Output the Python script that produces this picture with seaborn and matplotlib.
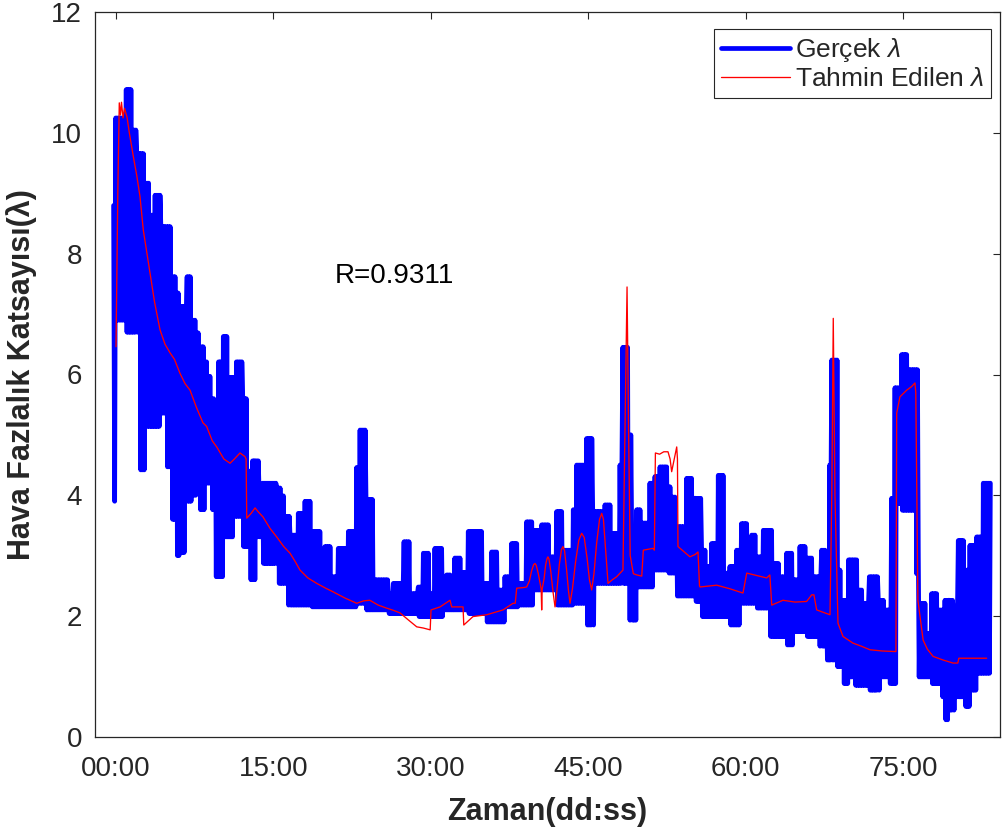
import numpy as np
import pandas as pd
import matplotlib
matplotlib.use("Agg")
import matplotlib.pyplot as plt
import seaborn as sns

# Measured lambda: the sensor signal oscillates quickly, so it is summarised
# per interval by the upper and lower value it swings between (minutes).
blok_baslangic = [
    -0.2, 0.0, 1.0, 1.6, 2.0, 2.3, 2.8, 3.3, 3.75, 4.3, 4.85, 5.35, 5.8, 6.1, 6.6, 6.8,
    7.25, 7.7, 8.0, 8.5, 8.8, 9.15, 9.5, 9.8, 10.25, 10.75, 11.2, 11.5, 12.1, 12.6, 12.8,
    13.04, 13.4, 13.67, 14.0, 15.33, 15.5, 15.81, 16.13, 16.4, 16.6, 17.39, 18.03, 18.66,
    19.6, 19.93, 20.57, 21.2, 22.16, 22.95, 23.27, 23.84, 24.6, 25.97, 26.44, 27.46,
    28.09, 28.82, 29.3, 29.93, 30.4, 31.2, 31.52, 32.0, 32.3, 32.95, 33.58, 35.0, 35.3,
    35.8, 36.44, 37.07, 37.71, 38.35, 39.14, 39.78, 40.57, 41.36, 42.0, 42.63, 43.58,
    43.9, 44.85, 45.43, 45.6, 46.6, 47.23, 48.03, 48.3, 48.9, 49.14, 49.62, 50.09, 50.88,
    51.2, 51.36, 51.84, 52.63, 52.95, 53.42, 54.38, 55.0, 55.2, 55.8, 56.28, 56.75,
    57.39, 58.0, 58.5, 59.14, 59.45, 59.6, 60.25, 60.57, 61.04, 61.68, 62.3, 62.63,
    63.27, 63.9, 64.54, 65.17, 65.8, 66.44, 67.0, 67.23, 67.71, 68.0, 68.2, 68.7, 68.82,
    69.14, 69.3, 69.8, 70.4, 70.73, 71.2, 71.78, 72.63, 72.8, 73.27, 73.7, 73.9, 74.22,
    74.35, 74.85, 75.49, 76.2, 76.44, 76.6, 77.23, 77.71, 78.34, 78.7, 78.98, 79.4,
    79.77, 80.0, 80.25, 80.89, 81.36, 82.0, 82.63,
]
blok_ust = [
    8.8, 10.25, 10.72, 10.05, 9.66, 9.66, 9.17, 8.64, 8.97, 8.45, 8.45, 7.62, 7.35, 7.13, 7.02, 7.62,
    6.9, 6.69, 6.46, 6.21, 5.97, 5.6, 5.41, 6.21, 6.63, 5.95, 5.95, 6.21, 5.6, 4.4, 4.03,
    4.57, 4.57, 3.99, 4.2, 4.12, 4.12, 3.99, 3.65, 3.65, 3.34, 3.7, 3.9, 3.4,
    2.65, 3.15, 2.65, 3.12, 3.4, 4.46, 5.08, 3.93, 2.6, 2.37, 2.54, 3.23,
    2.37, 2.48, 3.04, 2.37, 3.12, 2.65, 2.68, 2.37, 2.96, 2.72, 3.4, 2.54, 2.54,
    3.06, 2.43, 2.65, 3.2, 2.54, 3.56, 3.42, 3.51, 2.98, 3.73, 3.09, 3.76,
    4.5, 4.94, 3.73, 3.73, 3.84, 3.37, 4.5, 6.45, 5.0, 3.4, 3.76, 3.54, 4.2,
    4.2, 4.31, 4.47, 4.14, 3.97, 3.48, 4.28, 3.95, 3.95, 3.09, 2.82, 3.2,
    4.33, 2.71, 2.82, 3.09, 3.09, 3.53, 3.09, 3.34, 2.98, 3.42, 3.42, 2.87,
    2.65, 3.04, 2.6, 3.15, 2.96, 2.65, 2.65, 3.09, 2.04, 4.5, 6.24, 6.24, 2.76,
    2.26, 2.26, 2.93, 2.93, 2.43, 2.21, 2.65, 2.26, 2.26, 2.1, 2.1, 3.95, 5.78,
    5.78, 6.33, 6.08, 6.08, 3.0, 2.21, 1.71, 2.37, 2.1, 2.1, 2.26, 2.26,
    2.1, 2.1, 3.25, 2.76, 3.17, 3.31, 4.2,
]
blok_alt = [
    3.9, 6.9, 6.7, 6.7, 6.7, 4.42, 5.14, 5.14, 5.14, 5.36, 4.47, 3.6, 3.0, 3.05, 3.9, 3.9,
    4.0, 4.3, 3.76, 4.2, 4.2, 3.76, 2.65, 2.65, 3.31, 3.31, 3.65, 3.65, 3.15, 3.15, 2.6,
    2.6, 3.31, 3.31, 2.87, 2.87, 2.54, 2.54, 2.54, 2.18, 2.18, 2.18, 2.18, 2.15,
    2.15, 2.15, 2.15, 2.15, 2.15, 2.21, 2.21, 2.1, 2.1, 2.04, 2.04, 2.04,
    2.04, 1.99, 1.99, 1.99, 1.99, 2.1, 2.1, 2.1, 2.1, 2.1, 2.04, 2.04, 1.9,
    1.9, 1.9, 2.15, 2.15, 2.18, 2.18, 2.43, 2.43, 2.43, 2.18, 2.18, 2.21,
    2.21, 1.85, 1.85, 2.54, 2.54, 2.54, 2.54, 2.54, 1.93, 1.93, 2.48, 2.48, 2.48,
    2.76, 2.76, 2.76, 2.71, 2.71, 2.33, 2.33, 2.33, 2.24, 1.99, 1.99, 1.99,
    1.99, 1.99, 1.85, 1.85, 2.21, 2.21, 2.21, 2.21, 2.13, 2.13, 1.66, 1.66,
    1.66, 1.52, 1.74, 1.74, 1.66, 1.66, 1.5, 1.5, 1.27, 1.27, 1.27, 1.16, 1.16,
    1.16, 0.88, 0.99, 0.85, 0.85, 0.85, 0.77, 0.77, 0.99, 0.99, 0.88, 0.88, 0.88,
    3.86, 3.75, 3.75, 2.7, 0.99, 0.99, 0.99, 0.88, 0.88, 0.66, 0.28, 0.44,
    0.44, 0.66, 0.66, 0.5, 0.77, 1.05, 1.05,
]
gercek_bitis = 83.3

# Model estimate of lambda (minutes, value)
tahmin_dakika = [
    0.03, 0.2, 0.34, 0.46, 0.55, 0.7, 0.84, 1.08, 1.3, 1.68, 2.0, 2.31, 2.63, 3.27, 3.7,
    4.22, 4.7, 5.17, 5.6, 6.12, 6.6, 7.08, 7.7, 8.31, 8.66, 9.2, 9.62, 10.3, 10.89, 11.3,
    11.84, 12.31, 12.42, 12.48, 12.9, 13.27, 13.6, 14.03, 14.7, 15.33, 16.0, 16.6, 17.1,
    17.55, 18.3, 19.14, 20.0, 20.7, 21.8, 22.95, 23.6, 24.2, 25.0, 25.8, 26.5, 27.08,
    27.9, 28.67, 29.3, 29.95, 30.03, 30.89, 31.84, 32.0, 33.08, 33.15, 34.03, 35.33,
    36.89, 37.84, 38.05, 38.19, 38.8, 39.14, 39.4, 39.6, 39.8, 39.93, 40.05, 40.25,
    40.45, 40.52, 40.57, 40.62, 40.8, 40.95, 41.08, 41.17, 41.27, 41.45, 41.65, 41.84,
    42.02, 42.25, 42.45, 42.6, 42.75, 42.95, 43.12, 43.27, 43.5, 43.8, 44.1, 44.38,
    44.62, 44.9, 45.12, 45.33, 45.55, 45.8, 46.08, 46.29, 46.45, 46.62, 46.78, 46.89,
    47.3, 47.71, 48.31, 48.5, 48.7, 48.85, 49.0, 49.3, 49.62, 50.1, 50.25, 51.17,
    51.3, 51.4, 51.8, 52.2, 52.6, 52.8, 52.95, 53.2, 53.43, 53.5, 53.55, 54.69, 55.2,
    55.46, 55.6, 55.65, 57.24, 58.5, 59.74, 60.1, 62.0, 62.3, 62.48, 63.55, 64.7, 65.8,
    66.29, 66.5, 66.76, 68.03, 68.2, 68.34, 68.5, 68.79, 69.27, 70.22, 71.0, 71.84, 73.0,
    74.31, 74.38, 74.69, 75.33, 75.8, 76.12, 76.2, 76.4, 76.9, 77.3, 77.85, 78.8, 79.75,
    80.2, 80.3, 80.7, 82.95,
]
tahmin_lambda = [
    6.46, 9.0, 10.5, 10.3, 10.51, 10.25, 10.41, 10.26, 10.0, 9.61, 9.3, 8.95, 8.39, 7.68, 7.2,
    6.74, 6.5, 6.36, 6.25, 6.02, 5.85, 5.74, 5.45, 5.2, 5.14, 4.9, 4.8, 4.6, 4.53, 4.6,
    4.7, 4.64, 4.6, 3.62, 3.7, 3.79, 3.72, 3.64, 3.45, 3.31, 3.15, 3.04, 2.9,
    2.76, 2.63, 2.54, 2.46, 2.40, 2.3, 2.21, 2.25, 2.26, 2.18, 2.13, 2.09, 2.05,
    1.93, 1.82, 1.8, 1.77, 2.10, 2.15, 2.26, 2.15, 2.15, 1.85, 1.99, 2.02,
    2.10, 2.21, 2.21, 2.46, 2.47, 2.48, 2.58, 2.74, 2.85, 2.87, 2.84, 2.7,
    2.52, 2.45, 2.10, 2.45, 2.62, 2.85, 2.95, 2.98, 2.94, 2.72, 2.4, 2.15,
    2.42, 2.85, 3.1, 3.15, 3.08, 2.75, 2.42, 2.21, 2.45, 2.9, 3.25, 3.37,
    3.3, 2.95, 2.6, 2.43, 2.7, 3.2, 3.6, 3.70, 3.6, 3.2, 2.8, 2.54,
    2.6, 2.65, 2.76, 5.0, 7.45, 5.0, 3.0, 2.7, 2.68, 2.66, 3.09, 3.12,
    3.09, 4.70, 4.68, 4.72, 4.72, 4.6, 4.39, 4.6, 4.80, 4.6, 3.15, 2.98, 3.02,
    3.06, 2.5, 2.48, 2.51, 2.45, 2.38, 2.71, 2.63, 2.68, 2.18, 2.26, 2.23, 2.24,
    2.35, 2.35, 2.10, 2.02, 4.0, 6.93, 4.0, 1.88, 1.66, 1.55, 1.5, 1.44, 1.42,
    1.41, 5.36, 5.63, 5.74, 5.8, 5.86, 5.7, 2.26, 1.60, 1.45, 1.33, 1.27, 1.22,
    1.22, 1.30, 1.30, 1.30,
]

x_tikler = [0, 15, 30, 45, 60, 75]
x_tik_etiketleri = ["00:00", "15:00", "30:00", "45:00", "60:00", "75:00"]
y_tikler = [0, 2, 4, 6, 8, 10, 12]
r_metni = "R=0.9311"

# Expand each interval into the alternating samples of the oscillating signal
sinirlar = blok_baslangic + [gercek_bitis]
g_t, g_v = [], []
for i in range(len(blok_baslangic)):
    t0, t1 = sinirlar[i], sinirlar[i + 1]
    n = max(2, int(round((t1 - t0) / 0.08)))
    for k in range(n):
        g_t.append(t0 + (t1 - t0) * k / n)
        g_v.append(blok_ust[i] if k % 2 == 0 else blok_alt[i])
g_t.append(gercek_bitis)
g_v.append(blok_ust[-1])

df_gercek = pd.DataFrame({"dakika": g_t, "lambda": g_v})
df_tahmin = pd.DataFrame({"dakika": tahmin_dakika, "lambda": tahmin_lambda})

sns.set_style("white")
plt.rcParams["font.family"] = ["Liberation Sans", "DejaVu Sans"]
plt.rcParams["mathtext.fontset"] = "custom"
plt.rcParams["mathtext.rm"] = "Liberation Sans"
plt.rcParams["mathtext.it"] = "Liberation Sans:italic"

koyu = "#262626"
fig = plt.figure(figsize=(10.02, 8.31), dpi=100)
ax = fig.add_axes([94.5 / 1002, 1 - 736.7 / 831, (1000 - 94.5) / 1002, (736.7 - 12.3) / 831])

sns.lineplot(data=df_gercek, x="dakika", y="lambda", ax=ax, color="#0000ff",
             linewidth=3.4, estimator=None, sort=False, label="Gerçek $\\lambda$")
sns.lineplot(data=df_tahmin, x="dakika", y="lambda", ax=ax, color="#ff0000",
             linewidth=0.95, estimator=None, sort=False, label="Tahmin Edilen $\\lambda$")

ax.set_xlim(-2.02, 84.22)
ax.set_ylim(0, 12)
ax.set_xticks(x_tikler)
ax.set_xticklabels(x_tik_etiketleri)
ax.set_yticks(y_tikler)
ax.set_yticklabels([str(v) for v in y_tikler])
ax.tick_params(axis="both", direction="in", length=5, width=0.8, colors=koyu,
               labelsize=20, top=True, right=True)
ax.tick_params(axis="x", pad=14)
ax.tick_params(axis="y", pad=9)
for s in ax.spines.values():
    s.set_color(koyu)
    s.set_linewidth(0.9)

ax.set_xlabel("Zaman(dd:ss)", fontsize=22, fontweight="bold", color=koyu)
ax.set_ylabel("Hava Fazlalık Katsayısı(λ)", fontsize=22, fontweight="bold", color=koyu)
ax.xaxis.set_label_coords(0.5, -0.083)
ax.yaxis.set_label_coords(-0.064, 0.5)

ax.text(20.9, 7.51, r_metni, fontsize=20, color="black", ha="left", va="baseline")

leg = ax.legend(loc="upper right", bbox_to_anchor=((991 - 94.5) / 905.5, (736.7 - 29.3) / 724.4),
                borderaxespad=0, fontsize=19, handlelength=2.6, handletextpad=0.2,
                labelspacing=0.12, borderpad=0.25, fancybox=False, framealpha=1)
leg.get_frame().set_edgecolor(koyu)
leg.get_frame().set_linewidth(0.8)

fig.savefig("out.png", dpi=100)
